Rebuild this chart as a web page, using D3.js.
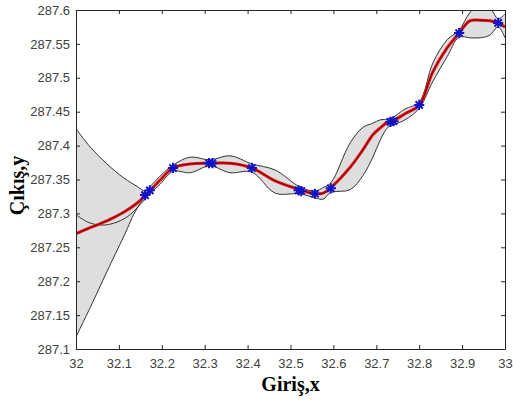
<!DOCTYPE html>
<html>
<head>
<meta charset="utf-8">
<script src="https://cdn.jsdelivr.net/npm/d3@7"></script>
<style>
	body { margin: 0; background: #fff; }
	svg { display: block; }
</style>
</head>
<body>
<div id="chart"></div>
<script>
// sample positions along the input axis
var xs = [32.000, 32.033, 32.072, 32.112, 32.142, 32.161, 32.172, 32.196, 32.226, 32.266,
	32.312, 32.359, 32.410, 32.464, 32.522, 32.557, 32.576, 32.594, 32.639, 32.669,
	32.692, 32.709, 32.727, 32.737, 32.767, 32.800, 32.832, 32.865, 32.893, 32.918,
	32.942, 32.965, 32.984, 33.000];

// upper edge of the confidence band
var upper = [287.425, 287.398, 287.373, 287.352, 287.340, 287.333, 287.339, 287.355, 287.371, 287.383,
	287.379, 287.385, 287.373, 287.364, 287.339, 287.333, 287.338, 287.345, 287.404, 287.427,
	287.433, 287.438, 287.439, 287.441, 287.454, 287.464, 287.522, 287.556, 287.570, 287.596,
	287.608, 287.603, 287.587, 287.594];

// predicted mean
var mean = [287.270, 287.279, 287.289, 287.302, 287.315, 287.326, 287.333, 287.349, 287.367, 287.373,
	287.374, 287.374, 287.367, 287.348, 287.335, 287.329, 287.330, 287.338, 287.368, 287.394,
	287.416, 287.426, 287.435, 287.436, 287.447, 287.460, 287.509, 287.544, 287.566, 287.584,
	287.585, 287.584, 287.581, 287.575];

// lower edge of the confidence band
var lower = [287.118, 287.161, 287.214, 287.267, 287.307, 287.321, 287.329, 287.343, 287.362, 287.360,
	287.370, 287.360, 287.361, 287.330, 287.329, 287.323, 287.321, 287.331, 287.335, 287.356,
	287.383, 287.408, 287.427, 287.430, 287.438, 287.455, 287.495, 287.531, 287.560, 287.559,
	287.559, 287.563, 287.575, 287.559];

// extra black curve inside the band on the left
var innerX = [32.000, 32.028, 32.054, 32.079, 32.112, 32.138, 32.152, 32.163];
var innerY = [287.298, 287.287, 287.283, 287.284, 287.292, 287.305, 287.317, 287.327];

// observed points
var obsX = [32.161, 32.172, 32.226, 32.310, 32.318, 32.410, 32.519, 32.525, 32.557, 32.594,
	32.733, 32.740, 32.800, 32.893, 32.984];
var obsY = [287.327, 287.334, 287.367, 287.374, 287.374, 287.367, 287.334, 287.333, 287.329, 287.337,
	287.435, 287.436, 287.460, 287.566, 287.581];

var xTicks = [32, 32.1, 32.2, 32.3, 32.4, 32.5, 32.6, 32.7, 32.8, 32.9, 33];
var xTickLabels = ['32', '32.1', '32.2', '32.3', '32.4', '32.5', '32.6', '32.7', '32.8', '32.9', '33'];
var yTicks = [287.1, 287.15, 287.2, 287.25, 287.3, 287.35, 287.4, 287.45, 287.5, 287.55, 287.6];
var yTickLabels = ['287.1', '287.15', '287.2', '287.25', '287.3', '287.35', '287.4', '287.45', '287.5', '287.55', '287.6'];

var W = 513, H = 405;
var margin = {left: 76, top: 10, right: 8, bottom: 56};
var w = W - margin.left - margin.right, h = H - margin.top - margin.bottom;

var svg = d3.select('#chart').append('svg').attr('width', W).attr('height', H);

svg.append('defs').append('clipPath').attr('id', 'plot-clip')
	.append('rect').attr('width', w).attr('height', h);

var g = svg.append('g').attr('transform', 'translate(' + margin.left + ',' + margin.top + ')');

var x = d3.scaleLinear().domain([32, 33]).range([0, w]);
var y = d3.scaleLinear().domain([287.1, 287.6]).range([h, 0]);

var rows = xs.map(function(d, i) { return {x: d, u: upper[i], m: mean[i], l: lower[i]}; });
var curve = d3.curveCatmullRom.alpha(0.5);

var plot = g.append('g').attr('clip-path', 'url(#plot-clip)');

// grey band
plot.append('path')
	.datum(rows)
	.attr('d', d3.area().curve(curve)
		.x(function(d) { return x(d.x); })
		.y0(function(d) { return y(d.l); })
		.y1(function(d) { return y(d.u); }))
	.attr('fill', '#dedede');

// band edges
['u', 'l'].forEach(function(k) {
	plot.append('path')
		.datum(rows)
		.attr('d', d3.line().curve(curve)
			.x(function(d) { return x(d.x); })
			.y(function(d) { return y(d[k]); }))
		.attr('fill', 'none')
		.attr('stroke', '#333')
		.attr('stroke-width', 1);
});

plot.append('path')
	.datum(innerX.map(function(d, i) { return [d, innerY[i]]; }))
	.attr('d', d3.line().curve(curve)
		.x(function(d) { return x(d[0]); })
		.y(function(d) { return y(d[1]); }))
	.attr('fill', 'none')
	.attr('stroke', '#333')
	.attr('stroke-width', 1);

// mean line: thick red with a dark core
var meanLine = d3.line().curve(curve)
	.x(function(d) { return x(d.x); })
	.y(function(d) { return y(d.m); });
plot.append('path').datum(rows).attr('d', meanLine)
	.attr('fill', 'none').attr('stroke', '#e8141a').attr('stroke-width', 3);
plot.append('path').datum(rows).attr('d', meanLine)
	.attr('fill', 'none').attr('stroke', '#4a0000').attr('stroke-width', 0.8);

// observation markers
var markers = g.append('g');
[d3.symbolPlus, d3.symbolX].forEach(function(type) {
	markers.selectAll(null)
		.data(obsX)
		.enter()
		.append('path')
		.attr('transform', function(d, i) { return 'translate(' + x(d) + ',' + y(obsY[i]) + ')'; })
		.attr('d', d3.symbol(type, 36))
		.attr('fill', 'none')
		.attr('stroke', '#1212c8')
		.attr('stroke-width', 2);
});

// axes (ticks pointing inwards on all four sides)
var axisColor = '#262626', textColor = '#404040';
function styleAxis(sel) {
	sel.select('.domain').attr('stroke', axisColor);
	sel.selectAll('.tick line').attr('stroke', axisColor);
	sel.selectAll('.tick text').attr('fill', textColor)
		.style('font-family', '"Liberation Sans", Arial, sans-serif').style('font-size', '13px');
}

g.append('g').attr('transform', 'translate(0,' + h + ')')
	.call(d3.axisBottom(x).tickValues(xTicks)
		.tickFormat(function(d, i) { return xTickLabels[i]; })
		.tickSizeInner(-4).tickSizeOuter(0).tickPadding(10))
	.call(styleAxis);

g.append('g')
	.call(d3.axisLeft(y).tickValues(yTicks)
		.tickFormat(function(d, i) { return yTickLabels[i]; })
		.tickSizeInner(-4).tickSizeOuter(0).tickPadding(6))
	.call(styleAxis);

g.append('g')
	.call(d3.axisTop(x).tickValues(xTicks).tickFormat('')
		.tickSizeInner(-4).tickSizeOuter(0))
	.call(styleAxis);

g.append('g').attr('transform', 'translate(' + w + ',0)')
	.call(d3.axisRight(y).tickValues(yTicks).tickFormat('')
		.tickSizeInner(-4).tickSizeOuter(0))
	.call(styleAxis);

// axis titles
svg.append('text')
	.attr('x', margin.left + w / 2)
	.attr('y', 391)
	.attr('text-anchor', 'middle')
	.style('font-family', '"Liberation Serif", "Times New Roman", serif')
	.style('font-weight', 'bold')
	.style('font-size', '20px')
	.text('Giriş,x');

svg.append('text')
	.attr('transform', 'translate(24,' + (margin.top + h / 2 + 6) + ') rotate(-90)')
	.attr('text-anchor', 'middle')
	.style('font-family', '"Liberation Serif", "Times New Roman", serif')
	.style('font-weight', 'bold')
	.style('font-size', '20px')
	.text('Çıkış,y');
</script>
</body>
</html>
